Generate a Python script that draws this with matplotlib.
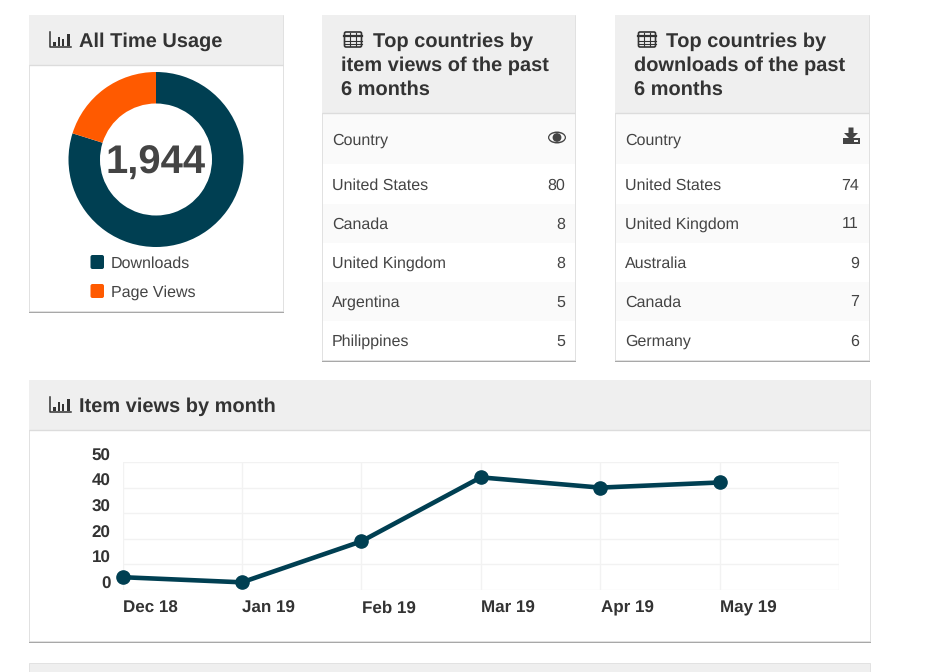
import matplotlib
matplotlib.use("Agg")
import matplotlib.pyplot as plt
from matplotlib.patches import Rectangle, FancyBboxPatch, Ellipse, Circle, Polygon
from matplotlib.transforms import ScaledTranslation

plt.rcParams['font.family'] = ['Liberation Sans', 'DejaVu Sans']
plt.rcParams['text.hinting'] = 'no_hinting'
plt.rcParams['text.hinting_factor'] = 1

# data
usage_labels = ["Downloads", "Page Views"]
usage_values = [1552, 392]
usage_total = "1,944"

view_countries = ["United States", "Canada", "United Kingdom", "Argentina", "Philippines"]
view_counts = [80, 8, 8, 5, 5]
download_countries = ["United States", "United Kingdom", "Australia", "Canada", "Germany"]
download_counts = [74, 11, 9, 7, 6]

months = ["Dec 18", "Jan 19", "Feb 19", "Mar 19", "Apr 19", "May 19"]
month_views = [5, 3, 19, 44, 40, 42]

W, H = 930, 672
DARK = "#003f52"
ORANGE = "#ff5a00"
HEAD_BG = "#efefef"
BAND = "#fafafa"
TEXT = "#444444"
TITLE = "#333333"

fig = plt.figure(figsize=(W / 100, H / 100), dpi=100, facecolor="white")

# whole-page axes in pixels, for the cards and the tables
page = fig.add_axes([0, 0, 1, 1])
page.set_xlim(0, W)
page.set_ylim(H, 0)
page.axis("off")


def px_axes(left, top, right, bottom):
    return fig.add_axes([left / W, 1 - bottom / H, (right - left) / W, (bottom - top) / H])


def card(x0, y0, x1, y1, head_bottom):
    page.add_patch(Rectangle((x0 - 0.5, y0 + 1), x1 - x0 + 1, y1 - y0 + 0.8, fc="#a8a8a8", ec="none"))
    page.add_patch(Rectangle((x0, y0), x1 - x0, y1 - y0, fc="white", ec="#e2e2e2", lw=0.7))
    page.add_patch(Rectangle((x0, y0), x1 - x0, head_bottom - y0, fc=HEAD_BG, ec="none"))
    page.plot([x0, x1], [head_bottom, head_bottom], color="#dcdcdc", lw=1, solid_capstyle="butt")


def bars_icon(x, y):
    # little bar chart, as in the card titles
    page.plot([x + 0.5, x + 0.5, x + 22], [y - 7, y + 8, y + 8], color=TITLE, lw=1.1)
    for dx, h in zip([4, 8.5, 12.5, 18], [4, 9, 6.5, 12]):
        page.add_patch(Rectangle((x + dx, y + 6.5 - h), 2.6, h, fc=TITLE, ec="none"))


def table_icon(x, y):
    page.add_patch(FancyBboxPatch((x + 1, y - 6.5), 16, 14, boxstyle="round,pad=0.5,rounding_size=1.5",
                                  fc="none", ec=TITLE, lw=1.2))
    page.plot([x, x + 18], [y - 3, y - 3], color=TITLE, lw=1.6)
    page.plot([x, x + 18], [y + 1.5, y + 1.5], color=TITLE, lw=0.8)
    page.plot([x, x + 18], [y + 4.5, y + 4.5], color=TITLE, lw=0.8)
    for dx in [6, 12]:
        page.plot([x + dx, x + dx], [y - 6, y + 7], color=TITLE, lw=0.8)


def eye_icon(x, y):
    page.add_patch(Ellipse((x, y), 18, 12, fc=TEXT, ec="none"))
    page.add_patch(Ellipse((x, y), 15.5, 9, fc=BAND, ec="none"))
    page.add_patch(Circle((x, y), 4.4, fc=TEXT, ec="none"))


def download_icon(x, y):
    page.add_patch(Polygon([(x - 2.5, y - 9.5), (x + 2.5, y - 9.5), (x + 2.5, y - 4), (x + 7, y - 4),
                            (x, y + 3), (x - 7, y - 4), (x - 2.5, y - 4)], fc=TEXT, ec="none"))
    page.add_patch(Rectangle((x - 8.5, y + 1), 17, 5.5, fc=TEXT, ec="none"))
    page.add_patch(Rectangle((x + 3, y + 3), 3.5, 1.5, fc=BAND, ec="none"))


def title_text(x, y, s):
    page.text(x, y, s, fontsize=14.4, fontweight="bold", color=TITLE, ha="left", va="baseline")


def table(x0, x1, countries, counts):
    page.add_patch(Rectangle((x0 + 0.5, 114), x1 - x0 - 1, 50, fc=BAND, ec="none"))
    page.text(x0 + 10, 144.5, "Country", fontsize=11.5, color=TEXT, ha="left", va="baseline")
    for i, (name, n) in enumerate(zip(countries, counts)):
        yc = 184 + 39 * i
        if i % 2 == 1:
            page.add_patch(Rectangle((x0 + 0.5, yc - 19.5), x1 - x0 - 1, 39, fc=BAND, ec="none"))
        page.text(x0 + 10, yc + 5.5, name, fontsize=11.5, color=TEXT, ha="left", va="baseline")
        page.text(x1 - 10, yc + 5.5, str(n), fontsize=11.5, color=TEXT, ha="right", va="baseline")


# all time usage
card(29, 15, 283, 311, 65)
bars_icon(49, 39)
title_text(79, 46.5, "All Time Usage")

donut = px_axes(156 - 87.5, 159.5 - 87.5, 156 + 87.5, 159.5 + 87.5)
donut.pie(usage_values, colors=[DARK, ORANGE], startangle=90, counterclock=False,
          radius=1, wedgeprops=dict(width=0.36, linewidth=0))
donut.set_xlim(-1, 1)
donut.set_ylim(-1, 1)
donut.text(0, -0.158, usage_total, fontsize=28.5, fontweight="bold", color=TEXT, ha="center", va="baseline")

for i, (lab, col) in enumerate(zip(usage_labels, [DARK, ORANGE])):
    yc = 262 + 29 * i
    page.add_patch(FancyBboxPatch((91.5, yc - 6), 11.5, 12, boxstyle="round,pad=1,rounding_size=2",
                                  fc=col, ec="none"))
    page.text(111, yc + 6, lab, fontsize=11.5, color=TEXT, ha="left", va="baseline")

# country tables
card(322, 15, 575, 360, 113)
table_icon(344, 39)
title_text(373, 46.5, "Top countries by")
title_text(341, 70.5, "item views of the past")
title_text(341, 94.5, "6 months")
table(322, 575, view_countries, view_counts)
eye_icon(557, 137.5)

card(615, 15, 869, 360, 113)
table_icon(638, 39)
title_text(666, 46.5, "Top countries by")
title_text(634, 70.5, "downloads of the past")
title_text(634, 94.5, "6 months")
table(615, 869, download_countries, download_counts)
download_icon(851, 137)

# item views by month
card(29, 380, 870, 641, 430)
bars_icon(49, 404)
title_text(79, 411.5, "Item views by month")

ax = px_axes(122.5, 462, 839, 590)
x = list(range(len(months)))
ax.plot(x, month_views, color=DARK, lw=3.3, marker="o", ms=9.5, clip_on=False, zorder=5)
ax.set_xlim(0, len(months))
ax.set_ylim(0, 50)
ax.set_xticks(list(range(len(months) + 1)))
ax.set_xticklabels(months + [""], ha="left", fontsize=12.3, fontweight="bold", color=TITLE)
ax.set_yticks([0, 10, 20, 30, 40, 50])
ax.set_yticklabels(["0", "10", "20", "30", "40", "50"], fontsize=12.2, fontweight="bold", color=TITLE)
ax.grid(True, color="#f2f2f2", lw=1)
ax.set_axisbelow(True)
ax.tick_params(length=0, pad=0)
for side in ax.spines.values():
    side.set_visible(False)

# tick labels sit beside the grid lines, not centred on them
dy_up = ScaledTranslation(-12 / 100, 7.5 / 100, fig.dpi_scale_trans)
for lab in ax.get_yticklabels():
    lab.set_transform(lab.get_transform() + dy_up)
dx_right = ScaledTranslation(0.5 / 100, -10.5 / 100, fig.dpi_scale_trans)
for lab in ax.get_xticklabels():
    lab.set_transform(lab.get_transform() + dx_right)

# top of the next card, cut by the page edge
page.add_patch(Rectangle((29, 663), 841, 12, fc=HEAD_BG, ec="#e2e2e2", lw=0.7))

fig.savefig("out.png", dpi=100)
